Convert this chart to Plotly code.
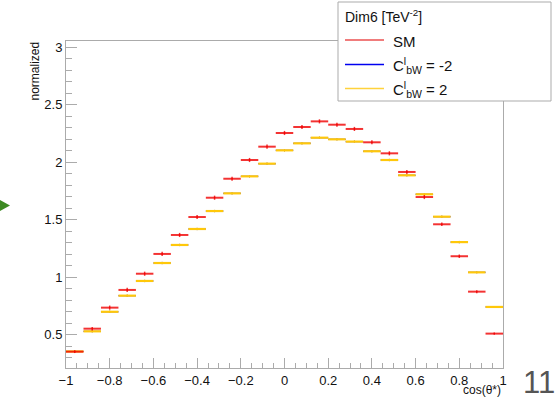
import plotly.graph_objects as go

# ---------------- data ----------------
bin_centers = [-0.96, -0.88, -0.80, -0.72, -0.64, -0.56, -0.48, -0.40, -0.32, -0.24,
               -0.16, -0.08, 0.00, 0.08, 0.16, 0.24, 0.32, 0.40, 0.48, 0.56,
               0.64, 0.72, 0.80, 0.88, 0.96]
bin_half_width = 0.04

sm_values = [0.353, 0.553, 0.736, 0.890, 1.031, 1.203, 1.368, 1.524, 1.692, 1.857,
             2.020, 2.136, 2.255, 2.307, 2.356, 2.327, 2.290, 2.174, 2.078, 1.916,
             1.698, 1.461, 1.183, 0.875, 0.510]
sm_errors = [0.012, 0.015, 0.018, 0.018, 0.018, 0.018, 0.018, 0.018, 0.018, 0.018,
             0.018, 0.018, 0.018, 0.018, 0.018, 0.018, 0.018, 0.018, 0.018, 0.018,
             0.018, 0.016, 0.015, 0.013, 0.010]

cm2_values = [0.355, 0.530, 0.700, 0.840, 0.968, 1.124, 1.281, 1.420, 1.576, 1.730,
              1.878, 1.988, 2.104, 2.165, 2.214, 2.200, 2.180, 2.096, 2.020, 1.887,
              1.722, 1.527, 1.306, 1.043, 0.742]
cm2_errors = [0.008, 0.010, 0.010, 0.010, 0.010, 0.010, 0.010, 0.010, 0.010, 0.010,
              0.010, 0.010, 0.010, 0.010, 0.010, 0.010, 0.010, 0.010, 0.010, 0.010,
              0.010, 0.010, 0.010, 0.009, 0.008]

cp2_values = [0.355, 0.530, 0.700, 0.840, 0.968, 1.124, 1.281, 1.420, 1.576, 1.730,
              1.878, 1.988, 2.104, 2.165, 2.214, 2.200, 2.180, 2.096, 2.020, 1.887,
              1.722, 1.527, 1.306, 1.043, 0.742]
cp2_errors = [0.008, 0.010, 0.010, 0.010, 0.010, 0.010, 0.010, 0.010, 0.010, 0.010,
              0.010, 0.010, 0.010, 0.010, 0.010, 0.010, 0.010, 0.010, 0.010, 0.010,
              0.010, 0.010, 0.010, 0.009, 0.008]

legend_title = "Dim6 [TeV<sup>-2</sup>]"
legend_labels = ["SM", "C<sup>l</sup><sub>bW</sub> = -2", "C<sup>l</sup><sub>bW</sub> = 2"]
x_title = "cos(θ*)"
y_title = "normalized"
page_number = "11"

# ---------------- layout geometry ----------------
FIG_W, FIG_H = 558, 401
L, R, T, B = 66, 55, 41, 33
PW, PH = FIG_W - L - R, FIG_H - T - B

def px(x):
    return (x - L) / PW

def py(y):
    return (FIG_H - B - y) / PH

RED = "rgba(240,0,0,0.8)"
BLUE = "rgba(0,0,255,0.9)"
YELLOW = "rgb(255,200,10)"
GREY = "#ababab"
FONT = "Liberation Sans, Arial, Helvetica, sans-serif"

fig = go.Figure()

def add_series(values, errors, color, name, hthick, vthick):
    fig.add_trace(go.Scatter(
        x=bin_centers, y=values, mode="markers", name=name, showlegend=False,
        marker=dict(size=1, color=color),
        error_x=dict(type="constant", value=bin_half_width, thickness=hthick,
                     width=0, color=color),
        error_y=dict(type="data", array=errors, thickness=vthick, width=0,
                     color=color),
    ))

add_series(cm2_values, cm2_errors, BLUE, legend_labels[1], 1.2, 0.8)
add_series(cp2_values, cp2_errors, YELLOW, legend_labels[2], 2.2, 1)
add_series(sm_values, sm_errors, RED, legend_labels[0], 2, 1.5)

axis_common = dict(
    showline=True, linecolor=GREY, linewidth=1, mirror=True,
    ticks="inside", tickcolor=GREY, tickwidth=1,
    showgrid=False, zeroline=False,
    tickfont=dict(family=FONT, size=13, color="#111"),
)

fig.update_xaxes(range=[-1, 1], dtick=0.2, tick0=-1, ticklen=10,
                 minor=dict(ticks="inside", dtick=0.05, ticklen=5, tickcolor=GREY),
                 **axis_common)
fig.update_yaxes(range=[0.211, 3.055], dtick=0.5, tick0=0, ticklen=11,
                 minor=dict(ticks="inside", dtick=0.1, ticklen=6, tickcolor=GREY),
                 **axis_common)

shapes = []
annotations = []

# legend box
shapes.append(dict(type="rect", xref="paper", yref="paper",
                   x0=px(338), x1=px(551), y0=py(101), y1=py(2),
                   line=dict(color=GREY, width=1), fillcolor="white", layer="above"))
annotations.append(dict(xref="paper", yref="paper", x=px(343), y=py(16),
                        xanchor="left", yanchor="middle", showarrow=False,
                        text=legend_title, font=dict(family=FONT, size=14, color="#111")))
leg_colors = ["rgba(235,80,80,1)", "rgba(0,0,240,1)", "rgba(255,210,60,1)"]
leg_ys = [40, 64.5, 88.5]
for lab, col, yy in zip(legend_labels, leg_colors, leg_ys):
    shapes.append(dict(type="line", xref="paper", yref="paper",
                       x0=px(345), x1=px(384), y0=py(yy), y1=py(yy),
                       line=dict(color=col, width=1.5), layer="above"))
    annotations.append(dict(xref="paper", yref="paper", x=px(391), y=py(yy + 1),
                            xanchor="left", yanchor="middle", showarrow=False,
                            text=lab, font=dict(family=FONT, size=15, color="#111")))

# axis titles
annotations.append(dict(xref="paper", yref="paper", x=px(503), y=py(381),
                        xanchor="right", yanchor="top", showarrow=False,
                        text=x_title, font=dict(family=FONT, size=12, color="#111")))
annotations.append(dict(xref="paper", yref="paper", x=px(34), y=py(40),
                        xanchor="center", yanchor="top", showarrow=False, textangle=-90,
                        text=y_title, font=dict(family=FONT, size=12, color="#111")))

# page number and slide arrow
annotations.append(dict(xref="paper", yref="paper", x=px(557), y=py(402),
                        xanchor="right", yanchor="bottom", showarrow=False,
                        text=page_number, font=dict(family=FONT, size=31, color="#555")))
shapes.append(dict(type="path", xref="paper", yref="paper",
                   path=f"M {px(-2)} {py(199)} L {px(10)} {py(205.5)} L {px(-2)} {py(212)} Z",
                   fillcolor="#3d8a23", line=dict(width=0), layer="above"))

fig.update_layout(
    width=FIG_W, height=FIG_H,
    margin=dict(l=L, r=R, t=T, b=B, pad=0),
    paper_bgcolor="white", plot_bgcolor="white",
    showlegend=False,
    shapes=shapes, annotations=annotations,
    font=dict(family=FONT),
)

fig.write_html("out.html")
